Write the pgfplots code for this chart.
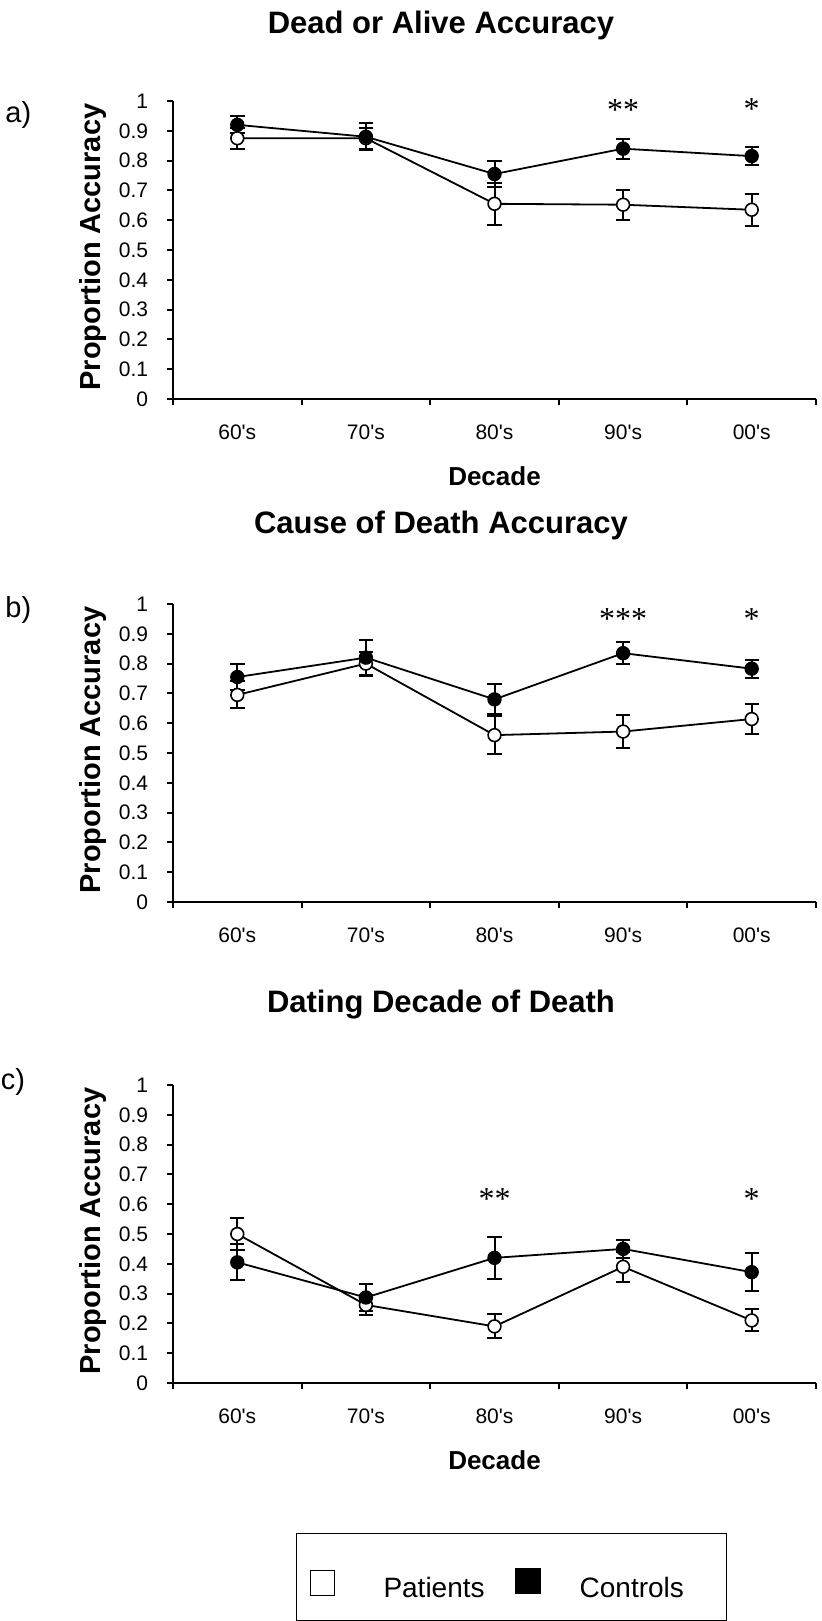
\documentclass[border=0pt]{standalone}
\usepackage{fontspec}
\setmainfont{Liberation Sans}
\newfontfamily\starfont{Liberation Serif}
\usepackage{pgfplots}
\pgfplotsset{compat=1.18}

\tikzset{sigstar/.style={font=\starfont\fontsize{16}{16}\selectfont, yshift=-2.5pt, inner sep=0pt}}

\pgfplotsset{
  panel/.style={
    scale only axis, width=321.5pt, height=149pt,
    xmin=0, xmax=5, ymin=0, ymax=1,
    axis lines*=left,
    axis line style={line width=1pt, black},
    clip=false,
    xtick={0.5,1.5,2.5,3.5,4.5},
    xticklabels={60\textquotesingle s,70\textquotesingle s,80\textquotesingle s,90\textquotesingle s,00\textquotesingle s},
    minor xtick={0,1,2,3,4,5},
    major x tick style={draw=none},
    ytick={0,0.1,0.2,0.3,0.4,0.5,0.6,0.7,0.8,0.9,1},
    yticklabels={0,0.1,0.2,0.3,0.4,0.5,0.6,0.7,0.8,0.9,1},
    tick align=outside,
    major tick length=3pt, minor tick length=3pt,
    tick style={black, line width=1pt},
    ticklabel style={font=\fontsize{10.5}{12}\selectfont},
    /pgf/number format/assume math mode=true,
    yticklabel shift=5.9pt, xticklabel shift=6.5pt,
    ylabel={Proportion Accuracy},
    ylabel style={font=\bfseries\fontsize{14.5}{16}\selectfont, at={(axis description cs:-0.125,0.51)}, anchor=center},
    every axis title shift=0pt,
    title style={font=\bfseries\fontsize{15.5}{18}\selectfont, anchor=base, yshift=0pt},
    xlabel style={font=\bfseries\fontsize{13}{15}\selectfont, at={(axis description cs:0.5,-0.258)}, anchor=center},
  },
  pat/.style={black, line width=0.9pt, mark=*, mark size=3.2pt,
    mark options={fill=white, draw=black, line width=0.8pt, solid},
    error bars/.cd, y dir=both, y explicit,
    error bar style={line width=1pt, black},
    error mark options={rotate=90, line width=1pt, black, mark size=3.6pt}},
  con/.style={black, line width=0.9pt, mark=*, mark size=3.2pt,
    mark options={fill=black, draw=black, line width=0.8pt, solid},
    error bars/.cd, y dir=both, y explicit,
    error bar style={line width=1pt, black},
    error mark options={rotate=90, line width=1pt, black, mark size=3.6pt}},
}

\begin{document}
\begin{tikzpicture}

% ---------- a) Dead or Alive Accuracy ----------
\begin{axis}[panel, at={(86.5pt,-199.5pt)}, anchor=south west,
  title={Dead or Alive Accuracy},
  title style={at={(axis description cs:0.4168,1.228)}},
  xlabel={Decade}]
\addplot+[pat] coordinates {
  (0.5,0.875) +- (0,0.035)
  (1.5,0.875) +- (0,0.035)
  (2.5,0.655) +- (0,0.070)
  (3.5,0.652) +- (0,0.050)
  (4.5,0.635) +- (0,0.053)
};
\addplot+[con] coordinates {
  (0.5,0.920) +- (0,0.028)
  (1.5,0.880) +- (0,0.045)
  (2.5,0.755) +- (0,0.045)
  (3.5,0.840) +- (0,0.034)
  (4.5,0.815) +- (0,0.030)
};
\node[sigstar] at (axis cs:3.5,0.985) {**};
\node[sigstar] at (axis cs:4.5,0.99) {*};
\end{axis}

% ---------- b) Cause of Death Accuracy ----------
\begin{axis}[panel, at={(86.5pt,-451pt)}, anchor=south west,
  title={Cause of Death Accuracy},
  title style={at={(axis description cs:0.4168,1.235)}}]
\addplot+[pat] coordinates {
  (0.5,0.695) +- (0,0.045)
  (1.5,0.800) +- (0,0.040)
  (2.5,0.560) +- (0,0.063)
  (3.5,0.572) +- (0,0.054)
  (4.5,0.614) +- (0,0.050)
};
\addplot+[con] coordinates {
  (0.5,0.755) +- (0,0.043)
  (1.5,0.820) +- (0,0.058)
  (2.5,0.680) +- (0,0.050)
  (3.5,0.835) +- (0,0.037)
  (4.5,0.783) +- (0,0.030)
};
\node[sigstar] at (axis cs:3.5,0.967) {***};
\node[sigstar] at (axis cs:4.5,0.967) {*};
\end{axis}

% ---------- c) Dating Decade of Death ----------
\begin{axis}[panel, at={(86.5pt,-691.5pt)}, anchor=south west,
  title={Dating Decade of Death},
  title style={at={(axis description cs:0.4168,1.242)}},
  xlabel={Decade},
  legend columns=2,
  legend cell align=left,
  legend style={at={(axis description cs:0.1913,-0.503)}, anchor=north west,
    draw=black, line width=0.5pt, inner xsep=0pt, inner ysep=0pt,
    column sep=0pt, row sep=0pt, nodes={inner sep=0pt},
    font=\fontsize{14}{16}\selectfont}]
\addlegendimage{legend image code/.code={
  \draw[black, line width=0.5pt, fill=white] (6.5pt,-3.5pt) rectangle (18.5pt,9pt);
  \path (0pt,-15.5pt) (43pt,27.5pt);}}
\addlegendentry{Patients}
\addlegendimage{legend image code/.code={
  \draw[black, line width=0.5pt, fill=black] (15pt,-2.5pt) rectangle (27.5pt,10pt);
  \path (0pt,-15.5pt) (47pt,27.5pt);}}
\addlegendentry{Controls\hspace*{21.5pt}}
\addplot+[pat] coordinates {
  (0.5,0.500) +- (0,0.055)
  (1.5,0.262) +- (0,0.035)
  (2.5,0.190) +- (0,0.040)
  (3.5,0.390) +- (0,0.050)
  (4.5,0.210) +- (0,0.037)
};
\addplot+[con] coordinates {
  (0.5,0.405) +- (0,0.060)
  (1.5,0.287) +- (0,0.045)
  (2.5,0.420) +- (0,0.070)
  (3.5,0.450) +- (0,0.030)
  (4.5,0.372) +- (0,0.063)
};
\node[sigstar] at (axis cs:2.5,0.633) {**};
\node[sigstar] at (axis cs:4.5,0.633) {*};
\end{axis}

\node[anchor=west, inner sep=0pt, font=\fontsize{14.5}{16}\selectfont] at (2.5pt,-57.5pt) {a)};
\node[anchor=west, inner sep=0pt, font=\fontsize{14.5}{16}\selectfont] at (2.5pt,-305pt) {b)};
\node[anchor=west, inner sep=0pt, font=\fontsize{14.5}{16}\selectfont] at (0.3pt,-541pt) {c)};

\pgfresetboundingbox
\path[use as bounding box] (0pt,0pt) rectangle (411pt,-810.5pt);
\end{tikzpicture}
\end{document}
